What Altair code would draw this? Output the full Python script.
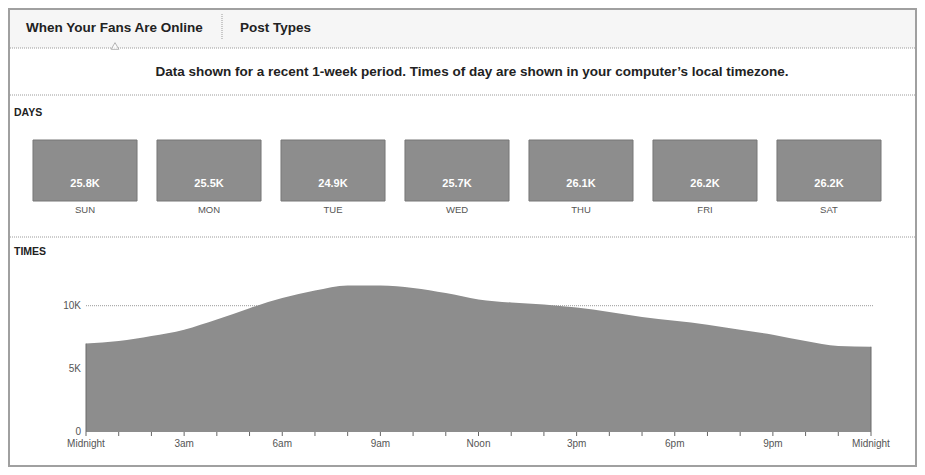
import altair as alt
import pandas as pd

# ---- data ----
days = ["SUN", "MON", "TUE", "WED", "THU", "FRI", "SAT"]
day_values_k = [25.8, 25.5, 24.9, 25.7, 26.1, 26.2, 26.2]

hours = list(range(25))
fans_online = [7000, 7200, 7600, 8100, 8900, 9800, 10600, 11200, 11600, 11600,
               11400, 11000, 10500, 10250, 10100, 9850, 9500, 9100, 8800, 8500,
               8100, 7700, 7200, 6800, 6750]

hour_ticks = [0, 3, 6, 9, 12, 15, 18, 21, 24]
hour_tick_labels = ["Midnight", "3am", "6am", "9am", "Noon", "3pm", "6pm", "9pm", "Midnight"]
y_ticks = [0, 5000, 10000]
y_tick_labels = ["0", "5K", "10K"]

W, H = 909, 459
FONT = "Liberation Sans"
GREY_FILL = "#8d8d8d"

days_df = pd.DataFrame({"day": days, "value": day_values_k,
                        "label": [f"{v}K" for v in day_values_k]})
times_df = pd.DataFrame({"hour": hours, "fans": fans_online})
xt_df = pd.DataFrame({"hour": hour_ticks, "label": hour_tick_labels})
yt_df = pd.DataFrame({"v": y_ticks, "label": y_tick_labels})
hr_df = pd.DataFrame({"hour": hours})
one = pd.DataFrame({"a": [0]})

# ---- scales ----
day_x = alt.Scale(domain=days, range=[15, 883], paddingInner=0.161, paddingOuter=0.0806)
hour_x = alt.Scale(domain=[0, 24], range=[78, 863], nice=False, zero=False)
fans_y = alt.Scale(domain=[0, 10000], range=[424, 297.7], nice=False, zero=False)


def rule(x, x2, y, y2=None, color="#9a9a9a", dash=(1, 1), width=1):
    enc = dict(x=alt.value(x), y=alt.value(y))
    if x2 is not None:
        enc["x2"] = alt.value(x2)
    if y2 is not None:
        enc["y2"] = alt.value(y2)
    return alt.Chart(one).mark_rule(color=color, strokeDash=list(dash), strokeWidth=width).encode(**enc)


def label(text, x, y, size=12, weight="bold", color="#222", align="left"):
    return alt.Chart(one).mark_text(text=text, font=FONT, fontSize=size, fontWeight=weight,
                                    color=color, align=align, baseline="middle").encode(
        x=alt.value(x), y=alt.value(y))


# ---- header decorations ----
tab_bg = alt.Chart(one).mark_rect(color="#f6f6f6").encode(
    x=alt.value(1), x2=alt.value(W - 1), y=alt.value(1), y2=alt.value(40))
outer = alt.Chart(one).mark_rect(fillOpacity=0, stroke="#a0a0a0", strokeWidth=2).encode(
    x=alt.value(1), x2=alt.value(W - 1), y=alt.value(1), y2=alt.value(H - 1))
caret = alt.Chart(one).mark_point(shape="triangle-up", filled=True, fill="white",
                                  stroke="#9a9a9a", strokeWidth=1, size=60).encode(
    x=alt.value(107), y=alt.value(38))

header = [
    tab_bg,
    rule(2, W - 2, 40),
    caret,
    rule(214, None, 6, 32),
    label("When Your Fans Are Online", 18, 20, size=13.5),
    label("Post Types", 232, 20, size=13.5),
    label("Data shown for a recent 1-week period. Times of day are shown in your computer\u2019s local timezone.",
          464, 64, size=13.5, align="center"),
    rule(2, W - 2, 87),
    label("DAYS", 6, 105, size=10.5),
    rule(2, W - 2, 229),
    label("TIMES", 6, 244, size=10.5),
]

# ---- days boxes ----
day_boxes = alt.Chart(days_df).mark_rect(color=GREY_FILL, stroke="#777", strokeWidth=1).encode(
    x=alt.X("day:N", scale=day_x, axis=None, sort=days),
    y=alt.value(132), y2=alt.value(193),
)
day_vals = alt.Chart(days_df).mark_text(font=FONT, fontSize=11, fontWeight="bold", color="white",
                                        baseline="middle").encode(
    x=alt.X("day:N", scale=day_x, axis=None, sort=days),
    y=alt.value(176), text="label:N")
day_names = alt.Chart(days_df).mark_text(font=FONT, fontSize=9.5, color="#555",
                                         baseline="middle").encode(
    x=alt.X("day:N", scale=day_x, axis=None, sort=days),
    y=alt.value(202), text="day:N")
days_layer = alt.layer(day_boxes, day_vals, day_names)

# ---- times area ----
xq = alt.X("hour:Q", scale=hour_x, axis=None)
grid10 = alt.Chart(pd.DataFrame({"v": [10000]})).mark_rule(
    color="#999", strokeDash=[1, 1]).encode(
    y=alt.Y("v:Q", scale=fans_y, axis=None), x=alt.value(78), x2=alt.value(866))
area = alt.Chart(times_df).mark_area(color=GREY_FILL, interpolate="monotone", opacity=1).encode(
    x=xq, y=alt.Y("fans:Q", scale=fans_y, axis=None))
edges = alt.Chart(times_df).mark_rule(color="#6a6a6a").transform_filter(
    "datum.hour == 0 || datum.hour == 24").encode(
    x=xq, y=alt.Y("fans:Q", scale=fans_y, axis=None), y2=alt.datum(0))
hticks = alt.Chart(hr_df).mark_rule(color="#666").encode(
    x=xq, y=alt.value(424), y2=alt.value(428))
hlabels = alt.Chart(xt_df).mark_text(font=FONT, fontSize=10, color="#555", baseline="middle").encode(
    x=xq, y=alt.value(436), text="label:N")
ylabels = alt.Chart(yt_df).mark_text(font=FONT, fontSize=10, color="#555", align="right",
                                     baseline="middle").encode(
    y=alt.Y("v:Q", scale=fans_y, axis=None), x=alt.value(73), text="label:N")
times_layer = alt.layer(grid10, area, edges, hticks, hlabels, ylabels)

chart = alt.layer(*header, days_layer, times_layer, outer).resolve_scale(
    x="independent", y="independent"
).properties(width=W, height=H, padding=0).configure_view(stroke=None)

chart.save("out.html", embed_options={"renderer": "svg", "actions": False})
